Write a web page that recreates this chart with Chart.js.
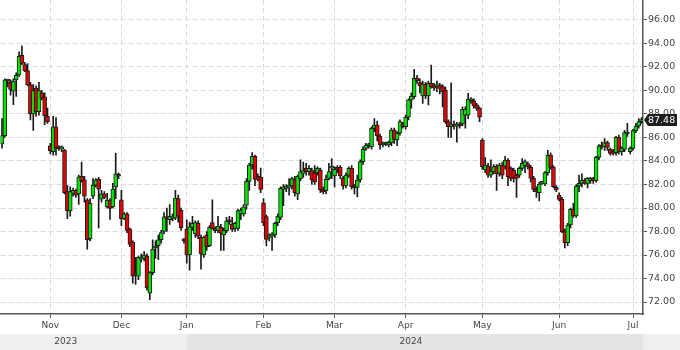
<!DOCTYPE html>
<html>
<head>
<meta charset="utf-8">
<script src="https://cdn.jsdelivr.net/npm/chart.js"></script>
<style>
  html, body { margin: 0; padding: 0; background: #fff; }
  #wrap { width: 680px; height: 350px; }
</style>
</head>
<body>
<div id="wrap"><canvas id="chart" width="680" height="350"></canvas></div>
<script>
// daily candles, Oct 2023 - Jul 2024
const opens = [
  85.45, 86.16, 90.85, 90.7, 89.95, 90.9, 91.3, 93.0, 92.2, 91.7,
  90.5, 88.0, 90.2, 88.2, 89.8, 89.45, 87.8, 85.3, 84.8, 86.9,
  85.2, 85.0, 84.9, 81.4, 79.75, 81.25, 81.5, 81.2, 82.7, 82.4, 80.7, 77.4,
  81.0, 81.95, 82.45, 80.75, 81.2, 80.11, 80.68, 80.1, 81.8, 82.8,
  80.7, 79.1, 79.5, 78.2, 77.1, 74.3, 74.2, 75.65, 75.7, 75.9,
  72.75, 74.5, 76.6, 76.8, 77.3, 78.0, 79.2, 79.0, 79.12, 79.15, 80.8, 79.8,
  77.25, 78.2, 76.0, 78.35, 77.8, 78.7, 77.5, 76.0, 77.7, 76.8,
  78.75, 78.27, 78.07, 78.35, 77.7, 78.07, 79.0, 78.64, 78.27, 78.27,
  79.49, 79.49, 80.25, 82.27, 83.66, 84.4, 82.7, 82.6,
  80.45, 79.26, 77.5, 77.6, 77.7, 78.75, 79.2, 81.59, 81.67, 81.76,
  81.87, 82.4, 81.19, 82.5, 82.95, 83.37, 83.09, 83.18, 83.0, 83.0, 83.23, 81.6,
  81.47, 82.52, 83.4, 82.72, 83.46, 83.46, 82.52, 81.87,
  82.8, 83.37, 81.87, 81.76, 82.38, 83.94, 85.08, 85.3,
  85.22, 86.78, 87.06, 86.13, 85.36, 85.45, 85.36, 85.56, 86.64, 85.79, 86.36, 87.15,
  86.92, 87.72, 89.2, 89.47, 91.03, 90.67, 89.53, 90.55,
  89.53, 90.61, 90.4, 90.33, 90.47, 90.33, 90.04, 87.35, 86.92, 87.15,
  86.95, 87.15, 87.15, 87.9, 87.9, 89.13, 89.13, 88.77, 88.48,
  85.79, 83.23, 83.57, 82.8, 83.09, 83.57, 82.95, 83.66, 83.57, 84.08,
  83.37, 83.2, 82.8, 82.8, 83.37, 83.6, 83.75, 83.46, 82.52,
  81.59, 81.3, 82.1, 82.04, 83.01, 84.51, 83.46, 81.76, 81.1, 80.74,
  77.98, 77.05, 78.55, 79.89, 79.32, 81.87, 82.1, 82.38, 82.1,
  82.32, 82.52, 82.32, 84.31, 85.3, 85.22, 85.56, 84.99, 84.85, 84.71,
  86.01, 84.79, 84.99, 86.3, 84.79, 85.08, 86.58, 86.98, 87.35
];
const highs = [
  87.6, 91.0, 90.9, 90.9, 91.0, 91.5, 93.3, 93.8, 92.4, 92.3,
  90.7, 90.5, 90.4, 90.7, 90.0, 89.8, 88.5, 85.5, 87.8, 87.7,
  85.3, 85.3, 85.0, 81.9, 81.8, 81.7, 81.6, 82.8, 83.9, 82.7, 80.8, 80.8,
  82.5, 82.5, 82.6, 81.5, 81.4, 81.25, 80.8, 82.1, 84.65, 83.0,
  81.5, 79.6, 79.6, 78.3, 77.2, 75.8, 75.9, 76.1, 76.3, 76.1,
  74.6, 77.3, 77.2, 77.7, 78.1, 79.6, 80.0, 80.3, 79.5, 81.5, 81.1, 80.0,
  77.4, 79.0, 78.8, 79.3, 78.9, 78.9, 77.7, 77.6, 78.0, 78.5,
  80.7, 78.4, 79.3, 78.6, 78.3, 79.2, 79.3, 79.2, 78.8, 79.9,
  80.0, 80.3, 82.5, 83.8, 84.71, 84.5, 82.9, 83.4,
  80.8, 79.4, 77.8, 77.9, 78.8, 79.5, 81.8, 82.0, 82.0, 82.5,
  82.6, 82.7, 82.8, 84.1, 83.9, 83.8, 83.6, 83.4, 83.6, 83.5, 83.4, 81.8,
  82.8, 83.8, 84.2, 83.5, 83.6, 83.6, 82.7, 83.0,
  83.5, 83.6, 82.0, 82.8, 84.1, 85.2, 85.5, 85.5,
  86.9, 87.6, 87.4, 86.3, 85.6, 85.6, 85.7, 86.8, 86.8, 86.5, 87.5, 87.3,
  87.9, 89.3, 89.8, 91.8, 91.3, 91.0, 90.8, 90.7,
  90.8, 92.17, 90.6, 90.8, 90.6, 90.5, 90.3, 87.5, 90.65, 87.4,
  87.3, 87.3, 88.6, 88.6, 89.76, 89.4, 89.3, 88.9, 88.6,
  85.9, 84.3, 83.8, 84.1, 83.7, 83.7, 83.8, 83.9, 84.4, 84.2,
  83.5, 83.4, 82.9, 83.5, 84.2, 84.1, 83.9, 83.6, 82.7,
  81.8, 82.2, 82.2, 83.1, 84.9, 84.7, 83.6, 81.9, 81.3, 80.9,
  78.2, 78.7, 80.0, 80.4, 82.0, 82.8, 82.9, 82.5, 82.6,
  82.6, 82.6, 84.4, 85.4, 85.6, 85.9, 85.7, 85.1, 85.0, 86.1,
  86.2, 85.2, 86.6, 87.2, 85.2, 86.7, 87.2, 87.6, 87.7
];
const lows = [
  85.1, 86.0, 90.3, 89.6, 88.8, 89.5, 91.2, 92.2, 91.6, 90.4,
  87.5, 86.6, 87.8, 87.9, 89.2, 87.1, 87.2, 84.6, 84.5, 84.5,
  84.9, 84.8, 81.2, 79.1, 79.3, 81.0, 80.9, 80.3, 82.2, 80.5, 76.5, 77.2,
  80.8, 81.8, 78.3, 80.5, 80.8, 80.0, 79.03, 80.0, 80.8, 82.5,
  78.5, 79.0, 77.9, 76.7, 73.6, 73.5, 73.9, 75.4, 75.5, 73.0,
  72.2, 74.3, 75.7, 75.6, 77.0, 77.8, 78.0, 78.6, 78.9, 79.0, 78.8, 78.1,
  77.0, 75.3, 74.7, 78.1, 77.5, 77.4, 74.8, 75.8, 76.4, 76.7,
  78.2, 77.9, 77.9, 76.4, 76.4, 77.9, 78.6, 78.0, 78.0, 78.1,
  79.0, 79.3, 79.9, 81.5, 83.3, 81.9, 82.3, 81.3,
  78.5, 76.77, 77.2, 76.4, 77.5, 78.5, 79.0, 80.2, 81.4, 81.1,
  81.6, 81.0, 80.7, 82.3, 82.6, 82.8, 82.8, 82.0, 82.0, 82.8, 81.3, 81.2,
  81.2, 82.4, 82.5, 81.8, 83.0, 82.5, 81.6, 81.7,
  82.6, 81.6, 81.2, 80.95, 82.2, 83.7, 84.9, 85.1,
  85.0, 86.5, 85.7, 85.0, 85.2, 85.3, 85.2, 85.3, 85.5, 85.3, 86.2, 86.8,
  86.7, 87.5, 88.5, 89.3, 90.6, 89.8, 88.9, 89.3,
  88.77, 90.2, 90.0, 89.9, 89.7, 88.6, 87.2, 86.0, 86.0, 86.7,
  85.6, 86.8, 87.0, 86.8, 87.6, 88.9, 88.5, 88.3, 87.35,
  83.3, 83.0, 82.6, 82.6, 82.9, 81.5, 82.7, 82.5, 83.3, 81.9,
  82.3, 82.2, 80.9, 82.6, 83.2, 83.0, 83.3, 82.2, 81.4,
  80.9, 80.6, 82.0, 81.9, 82.8, 83.3, 81.7, 81.4, 80.6, 77.9,
  76.6, 76.8, 78.3, 79.2, 79.2, 81.4, 81.8, 82.0, 81.7,
  82.1, 82.1, 82.2, 84.1, 85.0, 84.9, 84.9, 84.5, 84.5, 84.5,
  84.6, 84.5, 84.8, 86.1, 84.6, 84.9, 86.4, 86.8, 87.2
];
const closes = [
  86.16, 90.9, 90.8, 90.1, 90.8, 91.3, 92.9, 92.3, 91.66, 90.5,
  88.0, 90.0, 88.2, 90.0, 89.35, 87.85, 87.35, 84.85, 86.9, 85.1,
  85.05, 85.2, 81.3, 79.75, 81.4, 81.5, 81.1, 82.65, 82.3, 81.0, 77.3, 80.4,
  81.95, 82.4, 81.6, 81.2, 80.9, 80.68, 79.97, 81.6, 82.9, 82.7,
  79.1, 79.5, 78.1, 76.9, 74.2, 74.4, 75.8, 75.8, 76.0, 73.2,
  74.5, 76.5, 76.65, 77.3, 77.9, 79.25, 79.1, 79.3, 79.32, 80.85, 79.3, 78.3,
  77.2, 76.0, 78.4, 78.7, 78.75, 77.6, 76.1, 77.5, 76.7, 78.35,
  78.27, 78.07, 78.47, 77.84, 78.07, 78.9, 78.83, 78.18, 78.7, 79.77,
  79.83, 80.1, 82.27, 83.66, 84.4, 82.44, 82.44, 81.59,
  78.75, 77.33, 77.7, 77.8, 78.7, 79.3, 81.67, 81.8, 81.87, 81.95,
  82.5, 81.3, 82.7, 83.1, 83.18, 83.09, 83.37, 82.38, 82.24, 83.37, 81.53, 81.4,
  82.44, 83.09, 83.46, 83.29, 83.29, 82.72, 81.87, 82.8,
  83.37, 81.82, 81.73, 82.38, 83.94, 84.99, 85.36, 85.4,
  86.78, 87.06, 86.13, 85.36, 85.5, 85.45, 85.56, 86.64, 85.84, 86.36, 87.35, 86.92,
  87.72, 89.2, 89.53, 91.03, 90.84, 90.38, 90.55, 89.53,
  90.61, 90.33, 90.2, 90.47, 90.18, 89.9, 87.35, 86.92, 87.15, 87.0,
  87.15, 87.0, 88.4, 88.4, 89.25, 89.25, 88.68, 88.48, 87.72,
  83.52, 83.66, 82.8, 83.09, 83.52, 82.9, 83.66, 82.8, 84.08, 82.67,
  82.52, 82.52, 82.52, 83.37, 83.8, 83.95, 83.52, 82.52, 81.59,
  81.39, 82.04, 82.1, 83.01, 84.51, 83.46, 81.81, 81.53, 80.74, 77.98,
  77.05, 78.55, 79.89, 79.32, 81.87, 82.1, 82.38, 82.1, 82.52,
  82.52, 82.32, 84.31, 85.28, 85.2, 85.56, 85.16, 84.65, 84.65, 86.01,
  84.79, 85.1, 86.41, 86.41, 85.08, 86.58, 86.98, 87.35, 87.48
];

// month ticks: label and index of the first candle of that month
const monthNames = ['Nov', 'Dec', 'Jan', 'Feb', 'Mar', 'Apr', 'May', 'Jun', 'Jul'];
const monthIdx = [17, 42, 65, 92, 117, 142, 169, 196, 222];
const yearNames = ['2023', '2024'];
const yTickVals = [72, 74, 76, 78, 80, 82, 84, 86, 88, 90, 92, 94, 96, 98];
const lastPrice = 87.48;

const FONT = '"DejaVu Sans", Verdana, sans-serif';

// axis labels on the right, year strip and last price tag
const decor = {
  id: 'decor',
  beforeDraw(chart) {
    const ctx = chart.ctx;
    ctx.save();
    ctx.fillStyle = '#fff';
    ctx.fillRect(0, 0, chart.width, chart.height);
    ctx.restore();
  },
  afterDraw(chart) {
    const { ctx, chartArea: a, scales: { x, y } } = chart;
    ctx.save();

    // y labels
    ctx.font = '9.5px ' + FONT;
    ctx.fillStyle = '#444';
    ctx.textAlign = 'left';
    ctx.textBaseline = 'middle';
    yTickVals.forEach(v => {
      ctx.fillText(v.toFixed(2), a.right + 5, y.getPixelForValue(v));
    });

    // year strip
    const janX = x.getPixelForValue(monthIdx[2]);
    const top = a.bottom + 20;
    ctx.fillStyle = '#efefef';
    ctx.fillRect(0, top, janX, chart.height - top);
    ctx.fillStyle = '#e4e4e4';
    ctx.fillRect(janX, top, a.right - janX, chart.height - top);
    ctx.fillStyle = '#efefef';
    ctx.fillRect(a.right, top, chart.width - a.right, chart.height - top);
    ctx.font = '9px ' + FONT;
    ctx.fillStyle = '#444';
    ctx.textAlign = 'center';
    const ty = top + (chart.height - top) / 2;
    ctx.fillText(yearNames[0], janX - 121, ty);
    ctx.fillText(yearNames[1], (janX + a.right) / 2 - 4, ty);

    // last price tag
    const py = y.getPixelForValue(lastPrice);
    ctx.fillStyle = '#1e1e1e';
    ctx.beginPath();
    ctx.moveTo(a.right + 1, py);
    ctx.lineTo(a.right + 5, py - 6);
    ctx.lineTo(chart.width - 3, py - 6);
    ctx.lineTo(chart.width - 3, py + 6);
    ctx.lineTo(a.right + 5, py + 6);
    ctx.closePath();
    ctx.fill();
    ctx.font = '9.5px ' + FONT;
    ctx.fillStyle = '#fff';
    ctx.textAlign = 'left';
    ctx.fillText(lastPrice.toFixed(2), a.right + 5, py + 0.5);

    ctx.restore();
  }
};

const isMonth = i => monthIdx.indexOf(i) >= 0;

new Chart(document.getElementById('chart'), {
  type: 'bar',
  data: {
    labels: closes.map((_, i) => i),
    datasets: [
      {
        label: 'wick',
        data: lows.map((l, i) => [l, highs[i]]),
        backgroundColor: '#1a1a1a',
        barThickness: 1,
        grouped: false,
        order: 2
      },
      {
        label: 'body',
        data: opens.map((o, i) => [o, closes[i]]),
        backgroundColor: opens.map((o, i) => closes[i] >= o ? '#00e400' : '#e40000'),
        borderColor: '#1a1a1a',
        borderWidth: 1,
        borderSkipped: false,
        barThickness: 4,
        minBarLength: 2,
        grouped: false,
        order: 1
      }
    ]
  },
  options: {
    responsive: false,
    animation: false,
    devicePixelRatio: 1,
    layout: { padding: 0 },
    plugins: { legend: { display: false }, tooltip: { enabled: false } },
    scales: {
      x: {
        offset: true,
        grid: {
          offset: false,
          color: c => isMonth(c.index) ? '#dcdcdc' : 'rgba(0,0,0,0)',
          tickColor: c => isMonth(c.index) ? '#555' : 'rgba(0,0,0,0)',
          tickLength: 4
        },
        border: { color: '#555', width: 1.5, dash: [5, 3] },
        ticks: {
          autoSkip: false,
          maxRotation: 0,
          padding: 2,
          color: '#444',
          font: { family: FONT, size: 9 },
          callback: (v, i) => isMonth(i) ? monthNames[monthIdx.indexOf(i)] : ''
        },
        afterFit: s => { s.height = 36; }
      },
      y: {
        position: 'right',
        min: 70.98,
        max: 97.7,
        afterBuildTicks: s => { s.ticks = yTickVals.map(v => ({ value: v })); },
        ticks: { display: false },
        grid: { color: '#dcdcdc', tickColor: '#555', tickLength: 4 },
        border: { color: '#555', width: 1.5, dash: [5, 3] },
        afterFit: s => { s.width = 37; }
      }
    }
  },
  plugins: [decor]
});
</script>
</body>
</html>
